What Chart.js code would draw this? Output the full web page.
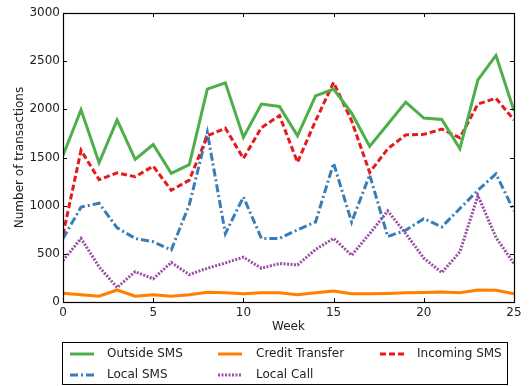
<!DOCTYPE html>
<html>
<head>
<meta charset="utf-8">
<script src="https://cdn.jsdelivr.net/npm/chart.js@4/dist/chart.umd.min.js"></script>
<style>
  html, body { margin: 0; padding: 0; background: #fff; }
  #wrap { width: 531px; height: 386px; position: relative; }
</style>
</head>
<body>
<div id="wrap"><canvas id="c" width="531" height="386"></canvas></div>
<script>
// Weekly transaction counts per transaction type
const weeks = [0,1,2,3,4,5,6,7,8,9,10,11,12,13,14,15,16,17,18,19,20,21,22,23,24,25];
const outsideSms = [1520,1995,1445,1890,1480,1635,1335,1425,2210,2275,1710,2055,2030,1725,2140,2210,1960,1615,1845,2075,1910,1895,1590,2305,2560,1985];
const creditTransfer = [90,75,60,125,60,75,60,75,100,95,85,95,95,75,95,115,85,85,88,95,98,105,95,125,122,85];
const incomingSms = [700,1575,1270,1340,1300,1410,1160,1265,1725,1805,1490,1810,1935,1450,1880,2280,1880,1345,1590,1735,1740,1795,1705,2055,2115,1890];
const localSms = [660,985,1025,770,660,625,540,1010,1760,710,1090,660,660,750,830,1440,830,1320,680,745,865,780,970,1160,1330,945];
const localCall = [430,660,365,150,315,240,410,285,350,405,465,350,400,385,545,660,485,710,945,710,455,305,520,1105,670,400];

const yTicks = [0,500,1000,1500,2000,2500,3000];
const xTicks = [0,5,10,15,20,25];

const FONT = "'DejaVu Sans', sans-serif";
const TEXT = '#222';

function series(label, values, color, dash) {
  return {
    label: label,
    data: weeks.map((w, i) => ({ x: w, y: values[i] })),
    borderColor: color,
    backgroundColor: color,
    borderWidth: 3,
    borderDash: dash,
    pointRadius: 0,
    tension: 0,
    fill: false
  };
}

// Inward ticks on all four sides plus the axes frame
const framePlugin = {
  id: 'frame',
  afterDatasetsDraw(chart) {
    const { ctx, chartArea: a, scales } = chart;
    ctx.save();
    ctx.strokeStyle = '#000';
    ctx.lineWidth = 1;
    ctx.beginPath();
    xTicks.forEach(v => {
      const x = Math.round(scales.x.getPixelForValue(v)) + 0.5;
      ctx.moveTo(x, a.bottom); ctx.lineTo(x, a.bottom - 4);
      ctx.moveTo(x, a.top); ctx.lineTo(x, a.top + 4);
    });
    yTicks.forEach(v => {
      const y = Math.round(scales.y.getPixelForValue(v)) + 0.5;
      ctx.moveTo(a.left, y); ctx.lineTo(a.left + 4, y);
      ctx.moveTo(a.right, y); ctx.lineTo(a.right - 4, y);
    });
    ctx.stroke();
    ctx.lineWidth = 1.2;
    ctx.strokeRect(Math.round(a.left) + 0.5, Math.round(a.top) + 0.5,
                   Math.round(a.right - a.left), Math.round(a.bottom - a.top));
    ctx.restore();
  }
};

// Three-column framed legend below the axes
const boxLegend = {
  id: 'boxLegend',
  afterDraw(chart) {
    const { ctx } = chart;
    const box = { x: 62.5, y: 342.5, w: 445, h: 42 };
    const cols = [{ s: 70, t: 107 }, { s: 218, t: 256 }, { s: 380, t: 417 }];
    const rows = [354, 375];
    ctx.save();
    ctx.fillStyle = '#fff';
    ctx.fillRect(box.x, box.y, box.w, box.h);
    ctx.strokeStyle = '#000';
    ctx.lineWidth = 1;
    ctx.strokeRect(box.x, box.y, box.w, box.h);
    ctx.font = '12px ' + FONT;
    ctx.textBaseline = 'middle';
    chart.data.datasets.forEach((ds, i) => {
      const c = cols[i % 3], y = rows[Math.floor(i / 3)];
      ctx.strokeStyle = ds.borderColor;
      ctx.lineWidth = 3;
      ctx.setLineDash(ds.borderDash || []);
      ctx.beginPath();
      ctx.moveTo(c.s, y); ctx.lineTo(c.s + 24, y);
      ctx.stroke();
      ctx.setLineDash([]);
      ctx.fillStyle = TEXT;
      ctx.fillText(ds.label, c.t, y);
    });
    ctx.restore();
  }
};

new Chart(document.getElementById('c'), {
  type: 'line',
  data: {
    datasets: [
      series('Outside SMS', outsideSms, '#4daf4a', []),
      series('Credit Transfer', creditTransfer, '#ff7f00', []),
      series('Incoming SMS', incomingSms, '#e41a1c', [6, 3]),
      series('Local SMS', localSms, '#377eb8', [8, 3, 2, 3]),
      series('Local Call', localCall, '#984ea3', [2, 1.5])
    ]
  },
  options: {
    responsive: false,
    animation: false,
    layout: { padding: { left: 0, right: 17, top: 13, bottom: 46 } },
    plugins: { legend: { display: false }, tooltip: { enabled: false } },
    scales: {
      x: {
        type: 'linear', min: 0, max: 25,
        afterBuildTicks(s) { s.ticks = xTicks.map(v => ({ value: v })); },
        afterFit(s) { s.height = 38; },
        grid: { display: false, drawTicks: false },
        border: { display: false },
        ticks: { padding: 4, color: TEXT, font: { family: FONT, size: 12 }, callback: v => String(v) },
        title: { display: true, text: 'Week', color: TEXT, font: { family: FONT, size: 12 }, padding: { top: 0, bottom: 6 } }
      },
      y: {
        type: 'linear', min: 0, max: 3000,
        afterBuildTicks(s) { s.ticks = yTicks.map(v => ({ value: v })); },
        afterFit(s) { s.width = 63; },
        grid: { display: false, drawTicks: false },
        border: { display: false },
        ticks: { padding: 3, color: TEXT, font: { family: FONT, size: 12 }, callback: v => String(v) },
        title: { display: true, text: 'Number of transactions', color: TEXT, font: { family: FONT, size: 12 }, padding: { top: 13, bottom: 0 } }
      }
    }
  },
  plugins: [framePlugin, boxLegend]
});
</script>
</body>
</html>
